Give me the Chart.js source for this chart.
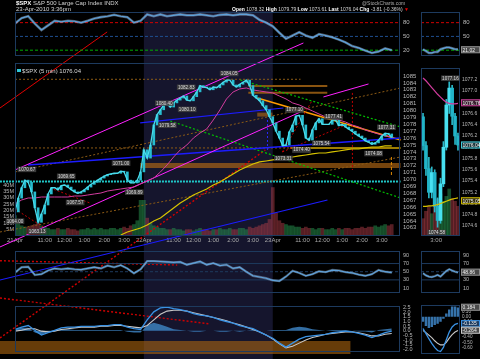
<!DOCTYPE html>
<html>
<head>
<meta charset="utf-8">
<script src="https://cdn.jsdelivr.net/npm/chart.js@4.4.1/dist/chart.umd.min.js"></script>
<style>
  html, body { margin: 0; padding: 0; background: #000; }
  #wrap { position: relative; width: 480px; height: 359px; overflow: hidden; background: #000;
          font-family: "Liberation Sans", Arial, sans-serif; }
  canvas { position: absolute; }
  .t { position: absolute; color: #d4d4d4; font-size: 6px; line-height: 6px; white-space: nowrap; }
  .t b { color: #fff; }
</style>
</head>
<body>
<div id="wrap">
  <canvas id="cMain" width="480" height="359" style="left:0;top:0"></canvas>
  <canvas id="cTopL" width="420" height="63" style="left:0;top:0"></canvas>
  <canvas id="cTopR" width="60" height="63" style="left:420px;top:0"></canvas>
  <canvas id="cMainR" width="60" height="182" style="left:420px;top:63px"></canvas>
  <canvas id="cRsiL" width="420" height="55" style="left:0;top:245px"></canvas>
  <canvas id="cRsiR" width="60" height="55" style="left:420px;top:245px"></canvas>
  <canvas id="cMacdL" width="420" height="59" style="left:0;top:300px"></canvas>
  <canvas id="cMacdR" width="60" height="59" style="left:420px;top:300px"></canvas>
  <div class="t" style="left:16px;top:0"><b>$SPX</b> S&amp;P 500 Large Cap Index INDX</div>
  <div class="t" style="left:16px;top:6px">23-Apr-2010 3:36pm</div>
  <div class="t" style="left:362px;top:0;font-size:5px;color:#aaa">@StockCharts.com</div>
  <div class="t" style="left:232px;top:6px;font-size:5px"><b>Open</b> 1078.32 <b>High</b> 1079.79 <b>Low</b> 1073.61 <b>Last</b> 1076.04 <b>Chg</b> -3.81 (-0.36%) <span style="color:#e00">&#9660;</span></div>
</div>
<script>
Chart.defaults.font.family = '"Liberation Sans", Arial, sans-serif';
Chart.defaults.font.size = 6;
Chart.defaults.color = '#b8b8b8';
Chart.defaults.animation = false;
Chart.defaults.responsive = false;
Chart.defaults.devicePixelRatio = 1;
Chart.defaults.plugins.legend.display = false;
Chart.defaults.plugins.tooltip.enabled = false;
Chart.defaults.elements.point.radius = 0;

// ---- time axis (10-minute steps from 9:30) ----
const dayLabels = ['21Apr', '22Apr', '23Apr'];
const hourLabels = ['11:00', '12:00', '1:00', '2:00', '3:00'];
const hourSteps = [9, 15, 21, 27, 33];
const stepsPerDay = 39;

// ---- price panel, one value per 10 minutes ----
const closes = [
  1065.3, 1067.3, 1068.8, 1069.9, 1069.6, 1068.2, 1065.9, 1063.8, 1065.0, 1066.3,
  1067.9, 1068.8, 1068.8, 1068.5, 1069.1, 1069.2, 1068.9, 1068.5, 1068.2, 1068.0,
  1068.2, 1068.5, 1068.9, 1069.3, 1069.6, 1069.9, 1070.2, 1070.5, 1070.7, 1070.8,
  1070.9, 1070.9, 1071.2, 1071.1, 1069.9, 1069.5, 1069.5, 1069.9, 1071.1,
  1074.3, 1073.1, 1075.0, 1077.9, 1079.4, 1080.1, 1080.8, 1080.9, 1080.5, 1081.1,
  1081.5, 1081.8, 1082.1, 1081.5, 1081.4, 1082.0, 1082.7, 1083.6, 1083.4, 1083.3,
  1083.0, 1083.4, 1083.3, 1083.7, 1084.1, 1084.4, 1084.4, 1083.7, 1083.4, 1083.8,
  1084.1, 1084.4, 1083.6, 1082.2, 1081.8, 1081.4, 1080.7, 1080.1, 1079.1,
  1078.2, 1077.0, 1076.0, 1074.9, 1075.0, 1076.9, 1077.9, 1079.2, 1079.3, 1077.9,
  1076.0, 1075.7, 1077.2, 1078.2, 1078.8, 1078.0, 1078.0, 1078.0, 1078.6, 1078.6,
  1077.8, 1078.0, 1077.6, 1077.3, 1077.0, 1076.6, 1076.3, 1076.0, 1075.6, 1075.4,
  1075.1, 1075.3, 1075.7, 1076.3, 1076.7, 1076.6, 1076.1
];
const volumes = [
  16, 10, 8, 7, 7, 8, 9, 10, 8, 7, 6, 5, 5, 6, 5, 5, 6, 5, 5, 4,
  5, 5, 6, 5, 6, 5, 6, 5, 5, 6, 6, 5, 6, 7, 6, 8, 9, 12, 28,
  28, 14, 10, 8, 7, 6, 6, 5, 5, 6, 5, 5, 4, 5, 5, 4, 5, 6, 5, 5,
  4, 5, 5, 6, 5, 5, 6, 5, 5, 6, 6, 5, 7, 6, 7, 8, 9, 10, 13,
  38, 18, 12, 10, 9, 8, 8, 7, 7, 6, 7, 6, 6, 5, 6, 6, 5, 5, 6, 5,
  6, 5, 6, 6, 5, 6, 6, 7, 6, 7, 7, 8, 7, 8, 9, 8, 9
];
// ---- averages and indicators, one value per 20 minutes ----
const maPink = [
  1066.45, 1067.03, 1067.32, 1067.32, 1067.46, 1067.46, 1067.46, 1067.46, 1067.46, 1067.61,
  1067.61, 1067.75, 1067.90, 1068.04, 1068.33, 1068.48, 1068.62, 1068.77, 1068.91, 1069.35,
  1069.78, 1070.22, 1071.09, 1072.10, 1073.26, 1074.28, 1075.00, 1076.01, 1076.74, 1077.32,
  1078.62, 1080.07, 1081.67, 1082.68, 1083.12, 1083.26, 1082.97, 1082.83, 1082.68, 1082.54,
  1082.10, 1081.67, 1081.09, 1080.80, 1080.36, 1079.93, 1079.49, 1079.06, 1078.91, 1078.62,
  1078.33, 1077.90, 1077.61, 1077.17, 1076.88, 1076.59, 1076.30, 1076.16
];
const maYellow = [
  null, null, null, null, null, null, null, null, null, null, null, null, null, null, null, null,
  1061.96, 1062.39, 1062.68, 1062.97, 1063.41, 1063.99, 1064.42, 1065.14, 1065.87, 1066.59,
  1067.17, 1067.75, 1068.19, 1068.62, 1069.20, 1069.64, 1070.22, 1070.80, 1071.38, 1071.81,
  1072.25, 1072.54, 1072.68, 1072.83, 1072.97, 1073.12, 1073.26, 1073.41, 1073.55, 1073.70,
  1073.84, 1073.84, 1073.99, 1074.13, 1074.28, 1074.42, 1074.42, 1074.57, 1074.71, 1074.71,
  1074.86, 1074.86
];
const oscTop = [
  78, 90, 94, 78, 64, 74, 84, 82, 84, 83, 80, 84, 89, 92, 94, 97, 94, 92, 80, 84,
  98, 94, 98, 94, 96, 98, 96, 96, 98, 96, 94, 97, 98, 96, 98, 98, 96, 86, 80, 72,
  58, 45, 52, 59, 52, 47, 55, 52, 48, 43, 37, 29, 25, 19, 14, 17, 24, 20
];
const rsi = [
  48, 61, 62, 42, 44, 53, 58, 56, 58, 56, 55, 58, 61, 58, 65, 61, 66, 58, 46, 56,
  76, 76, 75, 74, 73, 74, 67, 71, 75, 67, 71, 65, 67, 58, 61, 50, 40, 37, 34, 29,
  27, 38, 52, 47, 40, 44, 51, 49, 54, 53, 49, 47, 43, 40, 44, 54, 50, 48
];
const macd = [
  0.15, 0.4, 0.57, 0.06, -0.45, -0.2, 0.06, 0.32, 0.4, 0.4, 0.49, 0.49, 0.49, 0.57, 0.57,
  0.66, 0.66, 0.4, 0.23, 0.15, 1.17, 2.03, 2.45, 2.54, 2.37, 2.28, 2.11, 1.85, 1.68, 1.6,
  1.43, 1.17, 1.0, 0.83, 0.57, 0.4, 0.23, -0.11, -0.45, -0.79, -1.31, -1.74, -1.31, -0.88,
  -0.62, -0.54, -0.45, -0.37, -0.2, -0.11, -0.03, -0.11, -0.28, -0.45, -0.71, -0.45, -0.2, -0.03
];
const macdSignal = [
  -0.03, 0.06, 0.23, 0.23, -0.03, -0.11, -0.03, 0.15, 0.23, 0.32, 0.4, 0.4, 0.4, 0.49, 0.49,
  0.57, 0.57, 0.49, 0.4, 0.32, 0.57, 1.17, 1.77, 2.11, 2.2, 2.2, 2.11, 1.94, 1.77, 1.6,
  1.43, 1.26, 1.09, 0.83, 0.66, 0.4, 0.15, -0.11, -0.45, -0.88, -1.39, -1.82, -1.65, -1.31,
  -0.97, -0.71, -0.54, -0.37, -0.28, -0.2, -0.11, -0.11, -0.2, -0.37, -0.54, -0.54, -0.37, -0.28
];
const macdHist = [
  0.18, 0.34, 0.34, -0.17, -0.42, -0.09, 0.09, 0.17, 0.17, 0.08, 0.09, 0.09, 0.09, 0.08, 0.08,
  0.09, 0.09, -0.09, -0.17, -0.17, 0.6, 0.86, 0.68, 0.43, 0.17, 0.08, 0.0, -0.09, -0.09, 0.0,
  0.0, -0.09, -0.09, 0.0, -0.09, 0.0, 0.08, 0.0, 0.0, 0.09, 0.08, 0.08, 0.34, 0.43,
  0.35, 0.17, 0.09, 0.0, 0.08, 0.09, 0.08, 0.0, -0.08, -0.08, -0.17, 0.09, 0.17, 0.25
];

// ---- right zoom panel (last bars) ----
const rOpens  = [1076.54, 1076.03, 1075.62, 1075.2, 1075.55, 1074.95, 1074.7, 1075.35, 1076.0, 1076.75, 1077.05, 1076.55, 1076.2];
const rCloses = [1076.03, 1075.62, 1075.2, 1075.55, 1074.95, 1074.7, 1075.35, 1076.0, 1076.75, 1077.05, 1076.55, 1076.2, 1076.04];
const rHighs  = [1076.6, 1076.1, 1075.82, 1075.65, 1075.6, 1075.1, 1075.45, 1076.1, 1076.85, 1077.16, 1077.1, 1076.6, 1076.25];
const rLows   = [1075.95, 1075.5, 1075.1, 1075.1, 1074.85, 1074.58, 1074.65, 1075.3, 1075.95, 1076.6, 1076.4, 1076.05, 1075.95];
const rVolumes = [14, 20, 24, 18, 26, 30, 34, 28, 32, 38, 30, 28, 24];
const rMaPink = [1077.23, 1077.18, 1077.12, 1077.06, 1077.0, 1076.94, 1076.89, 1076.84, 1076.8, 1076.78, 1076.77, 1076.77, 1076.78];
const rMaYellow = [1074.95, 1074.95, 1074.96, 1074.96, 1074.97, 1074.98, 1075.0, 1075.02, 1075.04, 1075.06, 1075.08, 1075.09, 1075.1];
const rOsc = [22, 18, 14, 14, 16, 16, 22, 24, 26, 26, 24, 22, 22];
const rRsi = [46, 41, 38, 37, 39, 42, 38, 45, 52, 56, 53, 50, 48];
const rMacd = [-0.23, -0.33, -0.43, -0.52, -0.6, -0.66, -0.68, -0.6, -0.45, -0.3, -0.2, -0.15, -0.13];
const rSignal = [-0.27, -0.31, -0.36, -0.41, -0.47, -0.52, -0.55, -0.55, -0.5, -0.42, -0.35, -0.3, -0.27];
const rHist = [-0.1, -0.18, -0.22, -0.2, -0.16, -0.14, -0.1, -0.04, 0.06, 0.14, 0.2, 0.2, 0.18];
const rTickAt = [4.5];
const rTickText = ['3:00'];

// ---- axis tick labels ----
const priceTicks = [1063, 1064, 1065, 1066, 1067, 1068, 1069, 1070, 1071, 1072, 1073, 1074,
  1075, 1076, 1077, 1078, 1079, 1080, 1081, 1082, 1083, 1084, 1085];
const volumeTicks = [5, 10, 15, 20, 25, 30, 35, 40];
const rPriceTicks = [1074.6, 1074.8, 1075.0, 1075.2, 1075.4, 1075.6, 1075.8, 1076.0, 1076.2, 1076.4, 1076.6, 1076.8, 1077.0, 1077.2];
const oscLevels = [80, 50, 20];
const rsiTicks = [90, 70, 50, 30, 10];
const rsiLevels = [70, 50, 30];
const macdTicks = [2.5, 2.0, 1.5, 1.0, 0.5, 0.0, -0.5, -1.0, -1.5, -2.0];
const rMacdTicks = [0.2, 0.1, 0.0, -0.1, -0.2, -0.3, -0.4, -0.5, -0.6];

// ---- price notes: [10-min step, price] ----
const noteText = ['1070.67', '1064.00', '1063.13', '1069.65', '1067.57', '1071.00', '1069.89',
  '1080.40', '1082.83', '1079.58', '1080.10', '1084.05', '1073.31', '1077.10', '1075.54',
  '1074.40', '1077.41', '1074.08', '1077.31'];
const noteAt = [[3.6, 1071.5], [0, 1064.0], [6.7, 1062.5], [15.5, 1070.5], [18.2, 1066.7], [32.1, 1072.4],
  [36.1, 1068.2], [45.2, 1081.1], [51.8, 1083.4], [46.1, 1077.9], [52.1, 1080.2], [64.8, 1085.4],
  [81.2, 1073.1], [84.6, 1080.1], [92.7, 1075.3], [86.7, 1074.3], [96.4, 1079.1], [108.5, 1073.8],
  [112.4, 1077.6]];
const rNoteText = ['1077.16', '1074.58'];
const rNoteAt = [[9.4, 1077.23], [4.7, 1074.49]];

// ---- drawn trend lines: [step0, price0, step1, price1] ----
const trendLines = {
  redTop: [-4.55, 1080.36, 27.88, 1091.38],
  magUpper: [0, 1071.38, 87.27, 1089.78],
  magLower: [-4.55, 1060.22, 86.36, 1079.78],
  magShort: [93.33, 1081.96, 106.97, 1083.84],
  blueLong: [3.94, 1072.1, 116.67, 1076.0],
  blueMid: [37.88, 1078.19, 81.21, 1080.36],
  blueLow: [-4.55, 1055.43, 94.55, 1067.03],
  greenUpper: [68.18, 1084.42, 116.67, 1077.61],
  greenLower: [46.97, 1078.48, 116.67, 1067.32],
  brownTop: [0, 1084.52, 86.4, 1084.52],
  brownMid: [0, 1074.57, 83.3, 1074.57],
  brownRise: [0, 1071.09, 116.67, 1083.26],
  brownLow: [-4.55, 1062.39, 116.67, 1073.26],
  redDrop: [-4.55, 1047.03, 75.76, 1074.28],
  redFanA: [80.9, 1073.99, 90, 1081.52],
  redFanB: [80.9, 1073.99, 100, 1077.9],
  redDayA: [0, 1065.72, 8.5, 1063.12],
  redDayB: [10.6, 1068.77, 22.7, 1066.59],
  redVert: [102.1, 1082.54, 102.1, 1071.38],
  orangeVert: [113.9, 1073.26, 113.9, 1070.65],
  blueVert: [76.4, 1078.62, 76.4, 1074.28],
  cyanFlat: [-4.55, 1069.71, 116.67, 1069.71],
  orangeTrend: [73.33, 1081.81, 116.67, 1075.72],
  goldFlat: [83.3, 1074.57, 116.67, 1074.57],
  brownBarA: [70.6, 1083.55, 94.5, 1083.55],
  brownBarB: [70.6, 1082.58, 94.5, 1082.58],
  brownBand: [37.88, 1072.03, 116.67, 1072.03],
  brownBox: [73.3, 1079.4, 77.9, 1079.4],
  redRsi: [-4.55, 1058.23, 49.09, 1057.61],
  redMacd: [-4.55, 1052.83, 59.09, 1049.06]
};
const trendLook = {
  redTop: ['#e00000', 1, []],
  magUpper: ['#ff22ff', 1, []],
  magLower: ['#ff22ff', 1, []],
  magShort: ['#ff22ff', 1, []],
  blueLong: ['#1c1cff', 1.5, []],
  blueMid: ['#1c1cff', 1.2, []],
  blueLow: ['#1c1cff', 1.2, []],
  greenUpper: ['#00c000', 1.2, [2, 2]],
  greenLower: ['#00c000', 1.2, [2, 2]],
  brownTop: ['#8c5a14', 1, [2, 2]],
  brownMid: ['#8c5a14', 1, [2, 2]],
  brownRise: ['#8c5a14', 1, [2, 2]],
  brownLow: ['#8c5a14', 1, [2, 2]],
  redDrop: ['#d00000', 1.4, [2, 2]],
  redFanA: ['#c00000', 1, [2, 2]],
  redFanB: ['#c00000', 1, [2, 2]],
  redDayA: ['#c00000', 1, [2, 2]],
  redDayB: ['#c00000', 1, [2, 2]],
  redVert: ['#c00000', 1, [2, 2]],
  orangeVert: ['#e08a00', 1, [3, 2]],
  blueVert: ['#2a2aff', 1, [2, 2]],
  cyanFlat: ['#20c8c8', 2, [2, 1]],
  orangeTrend: ['#ff9c00', 1.5, []],
  goldFlat: ['#d4a800', 1.5, []],
  brownBarA: ['#8a5410', 2, []],
  brownBarB: ['#8a5410', 2, []],
  brownBand: ['rgba(180,105,20,0.65)', 5, []],
  brownBox: ['rgba(160,95,20,0.7)', 4, []],
  redRsi: ['#d00000', 1.4, [2, 2]],
  redMacd: ['#d00000', 1.4, [2, 2]]
};

const pts = (arr, step) => arr.map((v, k) => ({ x: k * step, y: v }));
const seg = q => [{ x: q[0], y: q[1] }, { x: q[2], y: q[3] }];
const flat = (lv, a, b) => [{ x: a, y: lv }, { x: b, y: lv }];
const X_MAX = 116.5;

const tickSteps = [];
const tickText = [];
dayLabels.forEach((d, n) => {
  tickSteps.push(n * stepsPerDay);
  tickText.push(d);
  hourSteps.forEach((h, m) => {
    tickSteps.push(n * stepsPerDay + h);
    tickText.push(hourLabels[m]);
  });
});

function hideX(min, max) {
  return { type: 'linear', min: min, max: max, display: false };
}
function sideAxis(pos, min, max, ticks, fmt, width, size, pad) {
  return {
    position: pos, min: min, max: max,
    grid: { display: false, drawTicks: false }, border: { display: false },
    afterBuildTicks: s => { s.ticks = ticks.map(v => ({ value: v })); },
    afterFit: s => { s.width = width; },
    ticks: { autoSkip: false, padding: pad !== undefined ? pad : (pos === 'right' ? 3 : 1),
      callback: fmt, font: { size: size || 6 } }
  };
}

const framePlugin = {
  id: 'frame',
  afterDatasetsDraw(chart) {
    const a = chart.chartArea, c = chart.ctx;
    c.save();
    c.strokeStyle = '#1d3a5e';
    c.lineWidth = 1;
    c.strokeRect(Math.round(a.left) + 0.5, Math.round(a.top) + 0.5,
      Math.round(a.right - a.left) - 1, Math.round(a.bottom - a.top) - 1);
    c.restore();
  }
};
Chart.register(framePlugin);

// value tags on the right edge of the zoom panels
function tagPlugin(tags) {
  return {
    id: 'tags',
    afterDraw(chart) {
      const c = chart.ctx, a = chart.chartArea, y = chart.scales.y;
      c.save();
      c.font = '5px "Liberation Sans", Arial';
      c.textBaseline = 'middle';
      tags.forEach(t => {
        const py = y.getPixelForValue(t.value);
        c.fillStyle = t.fill;
        c.fillRect(a.right + 1, py - 3.5, chart.width - a.right - 1, 7);
        c.strokeStyle = t.edge;
        c.strokeRect(a.right + 1.5, py - 3, chart.width - a.right - 2, 6);
        c.fillStyle = '#f0f0f0';
        c.fillText(t.text, a.right + 2.5, py + 0.5);
      });
      c.restore();
    }
  };
}

function notesPlugin(texts, places, legend) {
  return {
    id: 'notes',
    afterDatasetsDraw(chart) {
      const c = chart.ctx, x = chart.scales.x, y = chart.scales.y;
      c.save();
      c.font = '4.6px "Liberation Sans", Arial';
      c.textBaseline = 'middle';
      c.textAlign = 'center';
      texts.forEach((t, k) => {
        const px = x.getPixelForValue(places[k][0]);
        const py = y.getPixelForValue(places[k][1]);
        const w = c.measureText(t).width + 2;
        c.fillStyle = 'rgba(64,64,64,0.9)';
        c.fillRect(px - w / 2, py - 2.5, w, 5.5);
        c.fillStyle = '#dcdcdc';
        c.fillText(t, px, py + 0.4);
      });
      if (legend) {
        const a = chart.chartArea;
        c.textAlign = 'left';
        c.font = '6px "Liberation Sans", Arial';
        c.fillStyle = '#2fc8d8';
        c.fillRect(a.left + 2, a.top + 6, 4, 3);
        c.fillStyle = '#d8d8d8';
        c.fillText(legend, a.left + 7, a.top + 8);
      }
      c.restore();
    }
  };
}

const shadePlugin = {
  id: 'shade',
  beforeDraw(chart) {
    const c = chart.ctx, x = chart.scales.x;
    c.save();
    c.fillStyle = '#000';
    c.fillRect(0, 0, chart.width, chart.height);
    const x0 = x.getPixelForValue(stepsPerDay);
    const x1 = x.getPixelForValue(2 * stepsPerDay);
    c.fillStyle = '#15152d';
    c.fillRect(x0, 11, x1 - x0, chart.height - 11);
    c.restore();
  }
};

// ================= main price panel (also carries the drawn lines) =================
const upColor = 'rgba(40,150,80,0.5)';
const downColor = 'rgba(170,60,70,0.5)';
const volColors = volumes.map((v, k) => (k && closes[k] < closes[k - 1]) ? downColor : upColor);

new Chart(document.getElementById('cMain'), {
  type: 'bar',
  data: {
    datasets: [
      { type: 'line', data: pts(closes, 1), borderColor: '#4adcec', borderWidth: 1.3, yAxisID: 'y', order: 0 },
      { type: 'bar', data: closes.map((c, k) => ({ x: k, y: [k ? closes[k - 1] : c, c] })),
        backgroundColor: '#27bccf', barThickness: 2, grouped: false, yAxisID: 'y', order: 1 },
      { type: 'line', data: pts(maPink, 2), borderColor: '#d23c9e', borderWidth: 1, yAxisID: 'y', order: 2 },
      { type: 'line', data: pts(maYellow, 2), borderColor: '#d8c400', borderWidth: 1.2, yAxisID: 'y', order: 2 },
      ...Object.keys(trendLines).map(n => ({
        type: 'line', data: seg(trendLines[n]), borderColor: trendLook[n][0],
        borderWidth: trendLook[n][1], borderDash: trendLook[n][2], clip: false, yAxisID: 'y', order: 3
      })),
      { type: 'bar', data: pts(volumes, 1), backgroundColor: volColors, barThickness: 3,
        grouped: false, yAxisID: 'v', order: 10 }
    ]
  },
  options: {
    layout: { padding: { left: 0, right: 60, top: 63, bottom: 114 } },
    scales: {
      x: {
        type: 'linear', min: 0, max: X_MAX, offset: false,
        grid: { display: false, drawTicks: false }, border: { display: false },
        afterBuildTicks: s => { s.ticks = tickSteps.map(v => ({ value: v })); },
        afterFit: s => { s.height = 9; },
        ticks: { autoSkip: false, maxRotation: 0, padding: 1, color: '#a8a8a8',
          callback: v => tickText[tickSteps.indexOf(v)] }
      },
      y: sideAxis('right', 1061.81, 1086.88, priceTicks, v => String(v), 20),
      v: sideAxis('left', 0, 135.7, volumeTicks, v => v + 'M', 15, 5.5)
    }
  },
  plugins: [shadePlugin, notesPlugin(noteText, noteAt, '$SPX (5 min) 1076.04')]
});

// ================= top oscillator =================
const levelColors = ['#d00000', '#1f4f8f', '#00b000'];
function oscSets(values, step, a, b) {
  return [
    { data: pts(values, step), borderColor: '#5ea2dc', borderWidth: 1.2 },
    { data: pts(values, step), borderColor: 'rgba(175,205,235,0.45)', borderWidth: 2.6 },
    ...oscLevels.map((lv, k) => ({ data: flat(lv, a, b), borderColor: levelColors[k], borderWidth: 1, borderDash: [3, 2] }))
  ];
}
new Chart(document.getElementById('cTopL'), {
  type: 'line',
  data: { datasets: oscSets(oscTop, 2, 0, X_MAX) },
  options: {
    layout: { padding: { left: 15, right: 0, top: 12, bottom: 1 } },
    scales: { x: hideX(0, X_MAX), y: sideAxis('right', 6.46, 103.2, oscLevels, v => String(v), 20) }
  }
});
new Chart(document.getElementById('cTopR'), {
  type: 'line',
  data: { datasets: oscSets(rOsc, 1, -0.7, 12.7) },
  options: {
    layout: { padding: { left: 1, right: 2, top: 12, bottom: 1 } },
    scales: { x: hideX(-0.7, 12.7), y: sideAxis('right', 6.46, 103.2, oscLevels, v => String(v), 18) }
  },
  plugins: [tagPlugin([{ value: 21.02, text: '21.02', fill: '#4a4a4a', edge: '#8a8a8a' }])]
});

// ================= right price zoom =================
new Chart(document.getElementById('cMainR'), {
  type: 'bar',
  data: {
    datasets: [
      { type: 'line', data: pts(rMaPink, 1), borderColor: '#d23c9e', borderWidth: 1.2, yAxisID: 'y', order: 0 },
      { type: 'line', data: pts(rMaYellow, 1), borderColor: '#d8c400', borderWidth: 1.2, yAxisID: 'y', order: 0 },
      { data: rOpens.map((o, k) => ({ x: k, y: [o, rCloses[k]] })),
        backgroundColor: rOpens.map((o, k) => rCloses[k] >= o ? '#48e0f0' : '#22b4c8'),
        barThickness: 3, grouped: false, yAxisID: 'y', order: 1 },
      { data: rLows.map((l, k) => ({ x: k, y: [l, rHighs[k]] })), backgroundColor: '#2ab8c8',
        barThickness: 1, grouped: false, yAxisID: 'y', order: 2 },
      { data: pts(rVolumes, 1), backgroundColor: rOpens.map((o, k) => rCloses[k] >= o ? upColor : downColor),
        barThickness: 3, grouped: false, yAxisID: 'v', order: 5 }
    ]
  },
  options: {
    layout: { padding: { left: 1, right: 1, top: 0, bottom: 0 } },
    scales: {
      x: {
        type: 'linear', min: -0.7, max: 12.7, offset: false,
        grid: { display: false, drawTicks: false }, border: { display: false },
        afterBuildTicks: s => { s.ticks = rTickAt.map(v => ({ value: v })); },
        afterFit: s => { s.height = 9; },
        ticks: { autoSkip: false, maxRotation: 0, padding: 1, color: '#a8a8a8',
          callback: v => rTickText[rTickAt.indexOf(v)] }
      },
      y: sideAxis('right', 1074.424, 1077.407, rPriceTicks, v => v.toFixed(1), 19, 5, 2),
      v: { display: false, min: 0, max: 135.7 }
    }
  },
  plugins: [
    notesPlugin(rNoteText, rNoteAt, null),
    tagPlugin([
      { value: 1076.79, text: '1076.76', fill: '#3a2030', edge: '#c03a90' },
      { value: 1076.04, text: '1076.04', fill: '#203a40', edge: '#40c8d8' },
      { value: 1075.05, text: '1075.05', fill: '#3a3410', edge: '#c8b400' }
    ])
  ]
});

// ================= RSI =================
function rsiSets(values, step, a, b) {
  return [
    { data: pts(values, step), borderColor: '#5ea2dc', borderWidth: 1.2 },
    { data: pts(values, step), borderColor: 'rgba(175,205,235,0.4)', borderWidth: 2.4 },
    ...rsiLevels.map(lv => ({ data: flat(lv, a, b), borderColor: '#1d3a5e', borderWidth: 1,
      borderDash: lv === 50 ? [3, 2] : [] }))
  ];
}
new Chart(document.getElementById('cRsiL'), {
  type: 'line',
  data: { datasets: rsiSets(rsi, 2, 0, X_MAX) },
  options: {
    layout: { padding: { left: 15, right: 0, top: 0, bottom: 1 } },
    scales: { x: hideX(0, X_MAX), y: sideAxis('right', -3.85, 100, rsiTicks, v => String(v), 20, 5.5) }
  }
});
new Chart(document.getElementById('cRsiR'), {
  type: 'line',
  data: { datasets: rsiSets(rRsi, 1, -0.7, 12.7) },
  options: {
    layout: { padding: { left: 1, right: 2, top: 0, bottom: 1 } },
    scales: { x: hideX(-0.7, 12.7), y: sideAxis('right', -3.85, 100, rsiTicks, v => String(v), 18, 5.5) }
  },
  plugins: [tagPlugin([{ value: 48.86, text: '48.86', fill: '#4a4a4a', edge: '#8a8a8a' }])]
});

// ================= MACD =================
new Chart(document.getElementById('cMacdL'), {
  type: 'line',
  data: {
    datasets: [
      { data: pts(macd, 2), borderColor: '#3a92e4', borderWidth: 1.3 },
      { data: pts(macdSignal, 2), borderColor: '#c8c8c8', borderWidth: 1.1 },
      { data: pts(macdHist, 2), borderWidth: 0, fill: 'origin', backgroundColor: 'rgba(60,128,190,0.85)' },
      { data: flat(-1.78, -4.55, 101.5), borderColor: 'rgba(170,100,15,0.6)', borderWidth: 13, clip: false }
    ]
  },
  options: {
    layout: { padding: { left: 15, right: 0, top: 1, bottom: 0 } },
    scales: { x: hideX(0, X_MAX), y: sideAxis('right', -2.333, 2.624, macdTicks, v => v.toFixed(1), 20, 5.5) }
  }
});
new Chart(document.getElementById('cMacdR'), {
  type: 'bar',
  data: {
    datasets: [
      { type: 'line', data: pts(rMacd, 1), borderColor: '#3a92e4', borderWidth: 1.3, order: 0 },
      { type: 'line', data: pts(rSignal, 1), borderColor: '#c8c8c8', borderWidth: 1.1, order: 0 },
      { data: pts(rHist, 1), backgroundColor: 'rgba(60,128,190,0.9)', barPercentage: 0.85,
        categoryPercentage: 1, grouped: false, order: 1 }
    ]
  },
  options: {
    layout: { padding: { left: 1, right: 1, top: 1, bottom: 0 } },
    scales: {
      x: { type: 'linear', min: -0.7, max: 12.7, offset: false, display: false },
      y: sideAxis('right', -0.733, 0.233, rMacdTicks, v => v.toFixed(2), 19, 4.6, 2)
    }
  },
  plugins: [tagPlugin([
    { value: 0.184, text: '0.184', fill: '#4a4a4a', edge: '#8a8a8a' },
    { value: -0.135, text: '-0.135', fill: '#1d3c60', edge: '#3a92e4' },
    { value: -0.264, text: '-0.264', fill: '#4a4a4a', edge: '#c8c8c8' }
  ])]
});
</script>
</body>
</html>
